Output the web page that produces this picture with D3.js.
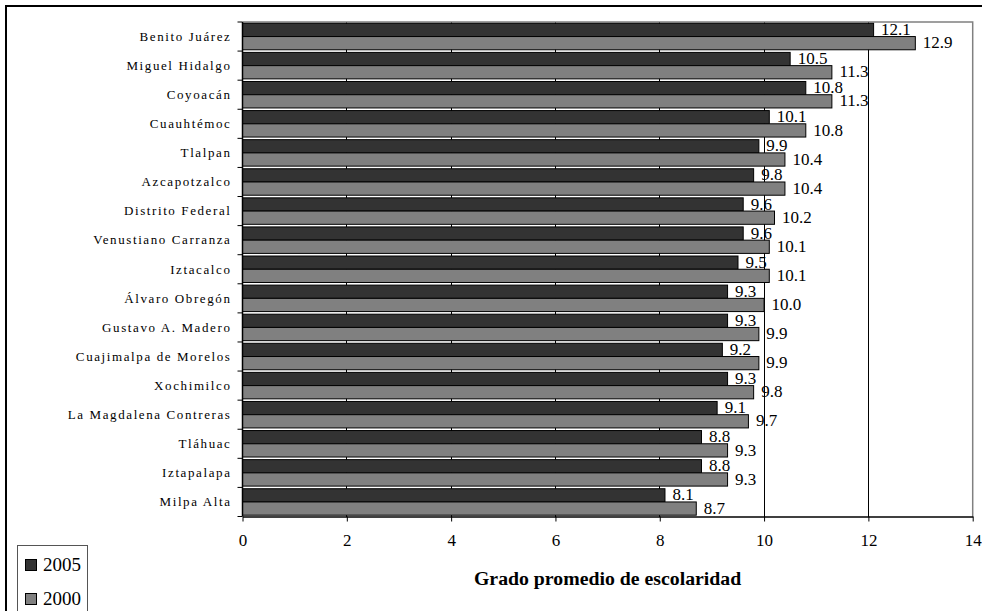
<!DOCTYPE html>
<html><head><meta charset="utf-8">
<script src="https://cdn.jsdelivr.net/npm/d3@7"></script>
<style>
html,body{margin:0;padding:0;background:#fff;}
svg{display:block;}
</style></head>
<body>
<svg id="chart" width="982" height="611"></svg>
<script>
const categories = ["Benito Juárez","Miguel Hidalgo","Coyoacán","Cuauhtémoc","Tlalpan","Azcapotzalco","Distrito Federal","Venustiano Carranza","Iztacalco","Álvaro Obregón","Gustavo A. Madero","Cuajimalpa de Morelos","Xochimilco","La Magdalena Contreras","Tláhuac","Iztapalapa","Milpa Alta"];
const values2005 = [12.1,10.5,10.8,10.1,9.9,9.8,9.6,9.6,9.5,9.3,9.3,9.2,9.3,9.1,8.8,8.8,8.1];
const values2000 = [12.9,11.3,11.3,10.8,10.4,10.4,10.2,10.1,10.1,10.0,9.9,9.9,9.8,9.7,9.3,9.3,8.7];
const seriesNames = ["2005","2000"];
const xTicks = [0,2,4,6,8,10,12,14];
const axisTitle = "Grado promedio de escolaridad";

const FONT = '"Liberation Serif"';
const colors = {"2005":"#333333","2000":"#808080"};
const svg = d3.select("#chart").attr("font-family",FONT);
const L = 242.5, R = 972.7, T = 22, B = 516.5;

// outer frame
svg.append("rect").attr("x",6).attr("y",6).attr("width",990).attr("height",620)
  .attr("fill","none").attr("stroke","#000").attr("stroke-width",2);

const x = d3.scaleLinear().domain([0,14]).range([L,R]);
const y = d3.scaleBand().domain(categories).range([T,B]).paddingInner(0.09).paddingOuter(0.045);
const ys = d3.scaleBand().domain(seriesNames).range([0,y.bandwidth()]);

// gridlines
svg.append("g").selectAll("line").data(xTicks.filter(d=>d>0 && d<14)).join("line")
  .attr("x1",d=>x(d)).attr("x2",d=>x(d)).attr("y1",T).attr("y2",B)
  .attr("stroke","#000").attr("stroke-width",1).attr("shape-rendering","crispEdges");

// plot border (gray top/right)
svg.append("path").attr("d",`M${L},${T}H${R}V${B}`).attr("fill","none")
  .attr("stroke","#808080").attr("stroke-width",1.5);

const rows = categories.map((c,i)=>({c, v:[values2005[i],values2000[i]]}));
const g = svg.append("g");
seriesNames.forEach((s,si)=>{
  g.append("g").selectAll("rect").data(rows).join("rect")
    .attr("x",x(0)).attr("y",d=>y(d.c)+ys(s))
    .attr("width",d=>x(d.v[si])-x(0)).attr("height",ys.bandwidth())
    .attr("fill",colors[s]).attr("stroke","#000").attr("stroke-width",1);
});
seriesNames.forEach((s,si)=>{
  g.append("g").selectAll("text").data(rows).join("text")
    .attr("font-family",FONT)
    .attr("x",d=>x(d.v[si])+7.5).attr("y",d=>y(d.c)+ys(s)+ys.bandwidth()-1.5)
    .attr("font-size","17px").attr("fill","#000").text(d=>d3.format(".1f")(d.v[si]));
});

// left axis
svg.append("line").attr("x1",L).attr("x2",L).attr("y1",T).attr("y2",B).attr("stroke","#000").attr("stroke-width",1.5);
const bounds = categories.map(c=>y(c)-y.step()*y.paddingInner()/2).concat([B]);
bounds[0]=T;
svg.append("g").selectAll("line").data(bounds).join("line")
  .attr("x1",L-5).attr("x2",L).attr("y1",d=>d).attr("y2",d=>d).attr("stroke","#000").attr("stroke-width",1);
svg.append("g").selectAll("text").data(categories).join("text")
  .attr("font-family",FONT)
  .attr("x",231.5).attr("y",d=>y(d)+y.bandwidth()/2+4.3).attr("text-anchor","end")
  .attr("font-size","13px").attr("letter-spacing","1.6px").attr("fill","#000").text(d=>d);

// bottom axis
const xAxis = d3.axisBottom(x).tickValues(xTicks).tickSize(5).tickSizeOuter(0).tickFormat(d3.format("d"));
const ax = svg.append("g").attr("transform",`translate(0,${B})`).call(xAxis).attr("font-family",FONT);
ax.select(".domain").attr("stroke","#000").attr("stroke-width",1.5);
ax.selectAll(".tick line").attr("stroke","#000");
ax.selectAll(".tick text").attr("font-size","17px").attr("font-family",FONT).attr("fill","#000").attr("y",29.5).attr("dy",null);

svg.append("text").attr("font-family",FONT).attr("x",(L+R)/2).attr("y",585).attr("text-anchor","middle")
  .attr("font-size","19.8px").attr("font-weight","bold").attr("fill","#000").text(axisTitle);

// legend
svg.append("rect").attr("x",17.5).attr("y",545.5).attr("width",70).attr("height",80)
  .attr("fill","#fff").attr("stroke","#555").attr("stroke-width",1);
seriesNames.forEach((s,i)=>{
  const yy = 559.5 + i*34;
  svg.append("rect").attr("x",25.5).attr("y",yy).attr("width",11).attr("height",11)
    .attr("fill",colors[s]).attr("stroke","#000").attr("stroke-width",1);
  svg.append("text").attr("font-family",FONT).attr("x",43).attr("y",yy+11.5).attr("font-size","19px").attr("fill","#000").text(s);
});
</script>
</body></html>
